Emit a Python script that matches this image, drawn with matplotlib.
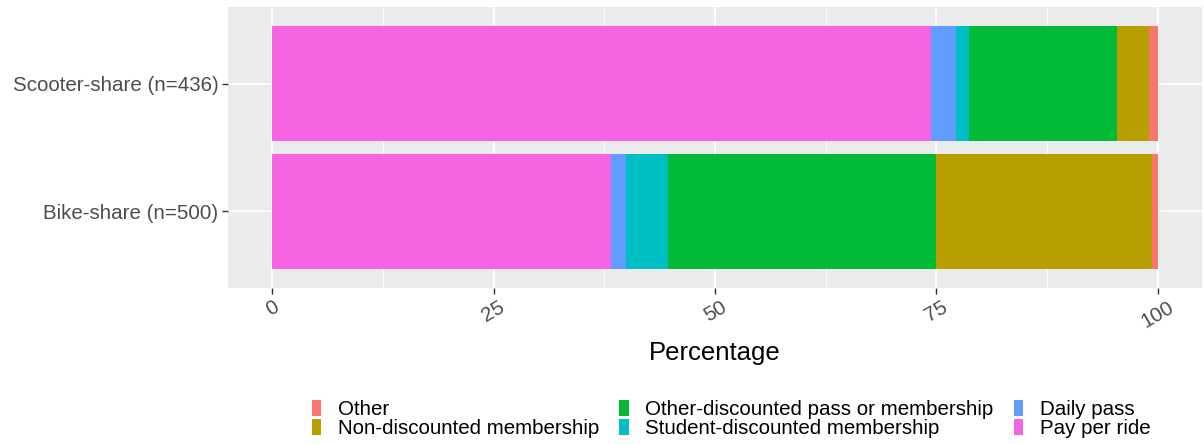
import numpy as np
import matplotlib
matplotlib.use('Agg')
import matplotlib.pyplot as plt
from matplotlib.patches import Patch

plt.rcParams['font.family'] = ['Liberation Sans', 'DejaVu Sans']

# Data (percentages)
groups = ['Bike-share (n=500)', 'Scooter-share (n=436)']
categories = ['Pay per ride', 'Daily pass', 'Student-discounted membership',
              'Other-discounted pass or membership', 'Non-discounted membership', 'Other']
bike = [38.3, 1.6, 4.8, 30.3, 24.3, 0.7]
scooter = [74.4, 2.8, 1.5, 16.7, 3.6, 1.0]
colors = ['#F564E3', '#619CFF', '#00BFC4', '#00BA38', '#B79F00', '#F8766D']
legend_order = ['Other', 'Non-discounted membership', 'Other-discounted pass or membership',
                'Student-discounted membership', 'Daily pass', 'Pay per ride']
xticks = [0, 25, 50, 75, 100]

fig = plt.figure(figsize=(12.04, 4.44), dpi=100)
ax = fig.add_axes([228 / 1204, 1 - 288 / 444, 974 / 1204, 281 / 444])
ax.set_facecolor('#EBEBEB')

vals = np.array([bike, scooter])
ypos = np.arange(len(groups)) + 1
left = np.zeros(len(groups))
for i, cat in enumerate(categories):
    ax.barh(ypos, vals[:, i], left=left, height=0.9, color=colors[i], zorder=3, label=cat)
    left += vals[:, i]

ax.set_xlim(-5, 105)
ax.set_ylim(0.4, 2.6)
ax.set_xticks(xticks)
ax.set_xticks([12.5, 37.5, 62.5, 87.5], minor=True)
ax.set_xticklabels([str(t) for t in xticks], rotation=30, ha='center', va='top')
ax.set_yticks(ypos)
ax.set_yticklabels(groups)
ax.grid(True, which='major', color='white', linewidth=1.2, zorder=1)
ax.grid(True, which='minor', axis='x', color='white', linewidth=0.6, zorder=1)
for s in ax.spines.values():
    s.set_visible(False)
ax.tick_params(axis='both', which='major', length=4, width=1, color='#333333',
               labelsize=14.8, labelcolor='#4D4D4D', pad=3)
ax.tick_params(axis='x', which='minor', length=0)
ax.set_xlabel('Percentage', fontsize=18.5, color='black', labelpad=7)

handles = [Patch(facecolor=colors[categories.index(c)], edgecolor='none') for c in legend_order]
fig.legend(handles, legend_order, loc='center', ncol=3, bbox_to_anchor=(731 / 1204, 1 - 419 / 444),
           frameon=False, fontsize=14.8, handlelength=0.45, handleheight=0.8, handletextpad=0.8,
           columnspacing=1.0, labelspacing=0.0, borderaxespad=0)

fig.savefig('out.png', dpi=100)
